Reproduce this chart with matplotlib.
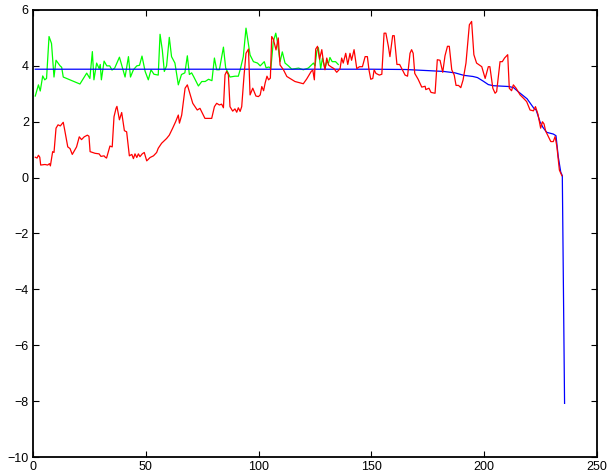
import matplotlib
matplotlib.use("Agg")
import matplotlib.pyplot as plt

green_x = [1, 2.4, 3.2, 4.3, 5.2, 6, 7.1, 8.2, 9.3, 10.2, 12, 12.7, 13.4, 20.8, 23.8, 25.2, 26.3, 27.0,
           28.2, 29.3, 29.8, 30.3, 31.5, 32.7, 34, 35, 36.2, 38.3, 39.3, 40.8, 42.3, 43.2, 44.5, 46,
           47.2, 48.3, 49.7, 51.1, 52.3, 53.6, 55.5, 56.3, 57.3, 58.2, 59.2, 60.4, 61.4, 62.9, 64.0,
           64.4, 65.8, 67.3, 68.4, 69.3, 70.3, 71.3, 73.3, 74.8, 76.3, 77.8, 79.3, 80.4, 81.4, 82.6,
           84.4, 85.4, 86.6, 87.3, 89.5, 91.0, 92.0, 93.2, 94.4, 95.2, 96.2, 97.7, 99.5, 100.7, 102.5,
           103.3, 104.6, 105.4, 106.5, 107.6, 108.3, 109.5, 110.5, 111.7, 113.2, 114.7, 117.7, 119.8,
           122, 124.3, 125.0, 125.8, 126.5, 127.5, 128.3, 129.4, 130.2, 131, 131.6, 132.6, 134.1, 135.3]
green_y = [2.92, 3.32, 3.1, 3.64, 3.5, 3.55, 5.05, 4.8, 3.6, 4.2, 4.0, 3.95, 3.6, 3.35, 3.74, 3.55, 4.51, 3.5,
           4.1, 3.9, 4.05, 3.5, 4.17, 4.0, 4.0, 3.85, 3.92, 4.31, 4.03, 3.6, 4.33, 3.6, 3.86, 4.0,
           4.02, 4.35, 3.8, 3.5, 3.86, 3.7, 3.67, 5.13, 4.57, 3.8, 4.0, 5.02, 4.33, 4.1, 3.53,
           3.32, 3.69, 3.75, 4.36, 3.69, 3.75, 3.6, 3.28, 3.44, 3.44, 3.52, 3.47, 4.28, 3.86, 3.86,
           4.67, 3.92, 3.73, 3.6, 3.63, 3.63, 3.92, 4.33, 5.35, 4.93, 4.39, 4.15, 4.1, 4.0, 4.15,
           3.93, 3.96, 3.9, 4.87, 5.17, 4.87, 4.15, 4.5, 4.1, 4.0, 3.88, 3.92, 3.86,
           3.92, 4.1, 4.0, 4.53, 4.65, 3.9, 4.28, 3.9, 4.15, 4.1, 4.3, 4.15, 4.15, 4.05]

red_x = [1, 1.8, 2.4, 3.0, 3.4, 5.3, 6.5, 7.3, 7.7, 8.7, 9.3, 10.2, 11.1, 12.1, 13.4, 14.1, 15.4, 16.4,
         17.4, 18.5, 19.3, 20.5, 21.5, 22.7, 24.1, 24.8, 25.3, 27.5, 29.3, 30.1, 31.5, 32.0, 32.6,
         34.1, 35.1, 35.9, 36.8, 37.2, 38.3, 39.3, 40.5, 41.5, 42.7, 43.8, 44.5, 45.2, 46, 46.7,
         47.4, 48.4, 49.3, 50.4, 51.9, 53.4, 54.8, 55.5, 57.0, 57.8, 59.2, 60.4, 61.9, 63.2, 64.4,
         64.9, 65.9, 67.4, 68.4, 69.5, 70.8, 71.8, 72.8, 74.0, 75.5, 76.2, 79.2, 80.4, 81.4, 82.6,
         83.6, 84.4, 85.1, 85.8, 86.6, 87.3, 88.5, 89.5, 90.3, 91.0, 91.8, 92.5, 93.5, 94.4, 95.5,
         96.2, 97.4, 98.8, 99.9, 100.7, 101.4, 102.2, 102.9, 103.7, 104.4, 105.2, 105.8, 106.5,
         107.7, 108.7, 109.5, 111.0, 112.5, 113.9, 116.1, 119.8, 121.3, 123.3, 124.0, 124.7, 125.3,
         126.1, 127.0, 128.0, 128.7, 129.4, 130.2, 131.0, 132.0, 133.4, 134.6, 136.1, 136.8, 137.5,
         138.6, 139.5, 140.5, 141.2, 142.3, 143.5, 144.7, 146.0, 147.2, 148.2, 148.9, 149.7, 150.6,
         151.2, 152.0, 153.5, 154.6, 155.6, 156.4, 157.5, 158.2, 159.4, 160.1, 160.7, 161.3, 162.5,
         163.7, 164.9, 166.0, 167.1, 167.8, 168.5, 169.2, 170.7, 172.3, 173.8, 174.1, 175.5, 176.4,
         178.2, 179.2, 180.4, 181.6, 182.6, 183.7, 184.5, 185.6, 186.7, 187.5, 188.6, 189.6, 190.6,
         191.9, 193.4, 194.4, 195.4, 196.6, 197.8, 198.9, 200.4, 201.8, 202.5, 203.8, 204.8, 205.5,
         207.0, 208.0, 209.0, 210.4, 211.1, 212.1, 212.9, 214.1, 215.9, 217.4, 218.8, 220.3, 221.8,
         222.7, 223.8, 225.0, 225.8, 226.5, 227.2, 228.4, 229.5, 230.6, 231.4, 232.2, 233.3, 234.4]
red_y = [0.73, 0.7, 0.8, 0.73, 0.45, 0.47, 0.45, 0.5, 0.42, 0.93, 0.9, 1.77, 1.89, 1.85, 1.98, 1.68, 1.1, 1.04,
         0.83, 0.99, 1.1, 1.46, 1.36, 1.46, 1.52, 1.48, 0.93, 0.87, 0.85, 0.76, 0.78, 0.73, 0.7,
         1.13, 1.1, 2.18, 2.48, 2.55, 2.07, 2.33, 1.68, 1.64, 0.78, 0.83, 0.68, 0.85, 0.72, 0.85,
         0.75, 0.85, 0.9, 0.6, 0.72, 0.78, 0.9, 1.05, 1.23, 1.29, 1.4, 1.52, 1.77, 2.0, 2.24,
         1.95, 2.24, 3.2, 3.32, 3.02, 2.66, 2.54, 2.42, 2.48, 2.24, 2.12, 2.12, 2.54, 2.66, 2.6,
         2.63, 2.5, 3.68, 3.8, 3.68, 2.54, 2.38, 2.46, 2.34, 2.5, 2.37, 2.54, 3.62, 4.45, 4.6,
         2.96, 3.2, 2.92, 2.9, 2.96, 3.26, 3.11, 3.39, 3.63, 3.5, 3.56, 5.05, 4.96,
         4.57, 5.0, 4.03, 3.86, 3.62, 3.55, 3.44, 3.36, 3.53, 3.8, 3.85, 3.5, 4.6,
         4.7, 4.24, 4.58, 4.15, 3.86, 4.28, 4.03, 3.97, 3.9, 3.77, 3.9, 4.28, 4.1,
         4.45, 4.05, 4.45, 4.2, 4.58, 3.9, 3.97, 3.97, 4.33, 4.33, 3.86, 3.52, 3.55,
         3.86, 3.73, 3.67, 3.7, 5.17, 5.17, 4.7, 4.33, 5.08, 5.08, 4.58, 4.05, 4.05,
         3.86, 3.67, 3.63, 4.45, 4.58, 4.45, 3.73, 3.52, 3.24, 3.27, 3.15, 3.2, 3.05,
         3.02, 4.22, 4.2, 3.77, 4.36, 4.7, 4.7, 3.86, 3.67, 3.3, 3.3, 3.22, 3.49,
         4.1, 5.47, 5.59, 4.4, 4.1, 4.03, 3.97, 3.55, 3.97, 3.97, 3.2, 3.02, 3.08,
         4.15, 4.15, 4.28, 4.4, 3.2, 3.11, 3.32, 3.2, 2.96, 2.84, 2.72, 2.42, 2.39,
         2.54, 2.27, 1.77, 2.0, 1.92, 1.67, 1.47, 1.29, 1.29, 1.47, 1.11, 0.27, 0.07]

blue_x = [1, 150, 165, 175, 182, 187, 191, 195, 197, 199.6, 201.8, 204, 211, 213, 215, 219, 222, 223,
          224.7, 226, 227.7, 230.6, 231.8, 232.8, 233.9, 234.6, 235.6]
blue_y = [3.88, 3.88, 3.87, 3.83, 3.8, 3.75, 3.66, 3.62, 3.58, 3.45, 3.33, 3.29, 3.26, 3.22, 3.08, 2.82, 2.48, 2.42,
          2.0, 1.8, 1.62, 1.56, 1.5, 0.75, 0.2, 0.07, -8.08]

x_ticks = [0, 50, 100, 150, 200, 250]
y_ticks = [-10, -8, -6, -4, -2, 0, 2, 4, 6]

plt.rcParams['font.family'] = ['Liberation Sans', 'DejaVu Sans']

fig = plt.figure(figsize=(6.08, 4.73), dpi=100)
ax = fig.add_axes([0.0543, 0.0338, 0.9277, 0.9451])

ax.plot(green_x, green_y, color=(0, 1, 0), lw=0.9)
ax.plot(blue_x, blue_y, color=(0, 0, 1), lw=0.9)
ax.plot(red_x, red_y, color=(1, 0, 0), lw=0.9)

ax.set_xlim(0, 250)
ax.set_ylim(-10, 6)
ax.set_xticks(x_ticks)
ax.set_yticks(y_ticks)
ax.set_xticklabels([str(v) for v in x_ticks])
ax.set_yticklabels([str(v).replace('-', '\u2212') for v in y_ticks])
ax.tick_params(direction='in', top=True, right=True, length=4, width=0.8,
               labelsize=9, pad=3)
for s in ax.spines.values():
    s.set_linewidth(1.3)

fig.savefig('out.png', dpi=100)
